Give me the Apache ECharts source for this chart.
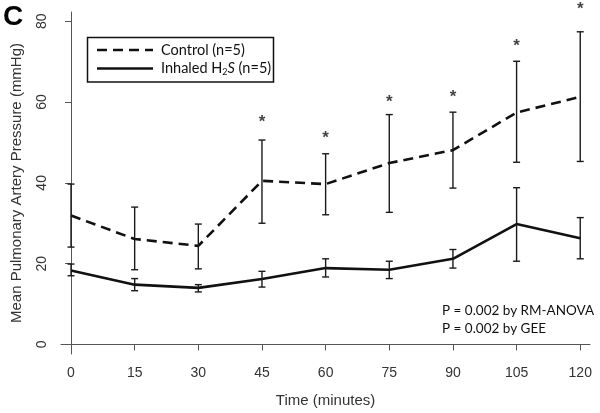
<!DOCTYPE html>
<html>
<head>
<meta charset="utf-8">
<script src="https://cdn.jsdelivr.net/npm/echarts@6/dist/echarts.min.js"></script>
<style>
html,body{margin:0;padding:0;background:#fff;}
#c{width:600px;height:413px;}
</style>
</head>
<body>
<div id="c"></div>
<script>
// Data
var times = [0, 15, 30, 45, 60, 75, 90, 105, 120];
var controlMean = [31.9, 26.1, 24.4, 40.5, 39.7, 44.9, 48.1, 57.4, 61.3];
var controlLow  = [24.1, 18.5, 18.7, 30.0, 32.1, 32.7, 38.7, 45.1, 45.3];
var controlHigh = [39.7, 34.0, 29.8, 50.6, 47.2, 56.9, 57.5, 70.1, 77.4];
var h2sMean = [18.3, 14.8, 14.0, 16.2, 18.9, 18.5, 21.2, 29.8, 26.3];
var h2sLow  = [17.0, 13.3, 13.0, 14.2, 16.7, 16.3, 18.9, 20.6, 21.2];
var h2sHigh = [19.9, 16.3, 14.8, 18.1, 21.2, 20.6, 23.5, 38.8, 31.4];
var starLevel = [null, null, null, 56.1, 52.0, 60.9, 62.2, 74.8, 83.9];
var xTicks = [0, 15, 30, 45, 60, 75, 90, 105, 120];
var yTicks = [0, 20, 40, 60, 80];

function pairs(xs, ys) { return xs.map(function (x, i) { return [x, ys[i]]; }); }
function bars(xs, lo, hi) { return xs.map(function (x, i) { return [x, lo[i], hi[i]]; }); }

function errRender(params, api) {
  var x = api.value(0);
  var a = api.coord([x, api.value(1)]);
  var b = api.coord([x, api.value(2)]);
  var cap = 3.5;
  var st = { stroke: '#1a1a1a', lineWidth: 1.4 };
  return {
    type: 'group',
    children: [
      { type: 'line', shape: { x1: a[0], y1: a[1], x2: b[0], y2: b[1] }, style: st },
      { type: 'line', shape: { x1: a[0] - cap, y1: a[1], x2: a[0] + cap, y2: a[1] }, style: st },
      { type: 'line', shape: { x1: b[0] - cap, y1: b[1], x2: b[0] + cap, y2: b[1] }, style: st }
    ]
  };
}

var starData = [];
times.forEach(function (t, i) { if (starLevel[i] != null) starData.push([t, starLevel[i]]); });

var chart = echarts.init(document.getElementById('c'), null, { renderer: 'canvas' });
var axisFont = 'Liberation Sans';
chart.setOption({
  animation: false,
  backgroundColor: '#fff',
  grid: { left: 61, right: 10, top: 12, bottom: 59, containLabel: false },
  xAxis: {
    type: 'value', min: -2.36, max: 122.3,
    splitLine: { show: false },
    axisLine: { show: true, lineStyle: { color: '#555', width: 1 } },
    axisTick: { show: true, length: 6, customValues: xTicks, lineStyle: { color: '#555' } },
    axisLabel: { customValues: xTicks, margin: 12, fontSize: 14, color: '#333', fontFamily: axisFont },
    name: 'Time (minutes)', nameLocation: 'middle', nameGap: 39,
    nameTextStyle: { fontSize: 15, color: '#333', fontFamily: axisFont }
  },
  yAxis: {
    type: 'value', min: -2.37, max: 82.3,
    splitLine: { show: false },
    axisLine: { show: true, lineStyle: { color: '#555', width: 1 } },
    axisTick: { show: true, length: 6, customValues: yTicks, lineStyle: { color: '#555' } },
    axisLabel: { customValues: yTicks, rotate: 90, margin: 12, fontSize: 14, color: '#333', fontFamily: axisFont },
    name: 'Mean Pulmonary Artery Pressure (mmHg)', nameLocation: 'middle', nameGap: 37,
    nameTextStyle: { fontSize: 15, color: '#333', fontFamily: axisFont }
  },
  series: [
    {
      name: 'Control (n=5)', type: 'line', data: pairs(times, controlMean),
      symbol: 'none', lineStyle: { color: '#111', width: 2.6, type: [10, 6] }, z: 3
    },
    {
      name: 'Inhaled H2S (n=5)', type: 'line', data: pairs(times, h2sMean),
      symbol: 'none', lineStyle: { color: '#111', width: 2.6, type: 'solid' }, z: 3
    },
    { type: 'custom', renderItem: errRender, data: bars(times, controlLow, controlHigh), z: 4 },
    { type: 'custom', renderItem: errRender, data: bars(times, h2sLow, h2sHigh), z: 4 },
    {
      type: 'scatter', data: starData, symbolSize: 0, clip: false,
      label: { show: true, position: 'inside', formatter: '*', fontSize: 17, fontWeight: 'bold', color: '#111', fontFamily: axisFont, offset: [0, 4] }
    }
  ],
  graphic: [
    { type: 'text', left: 3, top: 3, style: { text: 'C', font: 'bold 28px "Liberation Sans"', fill: '#000' } },
    { type: 'rect', shape: { x: 87.5, y: 37.5, width: 186, height: 44.5 }, style: { fill: '#fff', stroke: '#111', lineWidth: 1.5 }, z: 10 },
    { type: 'line', shape: { x1: 97, y1: 50, x2: 153, y2: 50 }, style: { stroke: '#111', lineWidth: 2.6, lineDash: [10, 6] }, z: 11 },
    { type: 'line', shape: { x1: 97, y1: 68.5, x2: 153, y2: 68.5 }, style: { stroke: '#111', lineWidth: 2.6 }, z: 11 },
    { type: 'text', x: 161, y: 50, style: { text: 'Control (n=5)', font: '14.5px Lato', fill: '#111', verticalAlign: 'middle' }, z: 11 },
    { type: 'text', x: 161, y: 68.5, style: {
        text: '{a|Inhaled H}{s|2}{i|S}{a| (n=5)}', verticalAlign: 'middle',
        rich: {
          a: { font: '14.5px Lato', fill: '#111' },
          s: { font: '9px Lato', fill: '#111', padding: [7, 0, 0, 0] },
          i: { font: 'italic 14.5px Lato', fill: '#111' }
        }
      }, z: 11 },
    { type: 'text', x: 442, y: 311, style: { text: 'P = 0.002 by RM-ANOVA', font: '13.5px Lato', fill: '#111', verticalAlign: 'middle' } },
    { type: 'text', x: 442, y: 329, style: { text: 'P = 0.002 by GEE', font: '13.5px Lato', fill: '#111', verticalAlign: 'middle' } }
  ]
});
</script>
</body>
</html>
